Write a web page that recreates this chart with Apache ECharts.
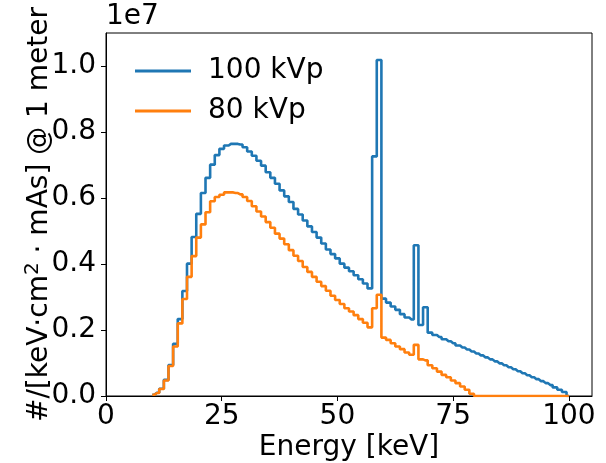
<!DOCTYPE html>
<html>
<head>
<meta charset="utf-8">
<script src="https://cdn.jsdelivr.net/npm/echarts@6/dist/echarts.min.js"></script>
<style>
  html, body { margin: 0; padding: 0; background: #fff; }
  #chart { width: 606px; height: 463px; }
</style>
</head>
<body>
<div id="chart"></div>
<script>
// energy bins, 1 keV wide (bin centres)
var energies = [];
for (var e = 10; e <= 100; e++) energies.push(e);

// photon fluence, units of 1e6 per keV
var kvp100 = [
  0.04, 0.10, 0.22, 0.49, 0.94, 1.58, 2.33, 3.18, 4.01, 4.82,
  5.52, 6.15, 6.61, 7.01, 7.30, 7.49, 7.59, 7.64, 7.64, 7.62,
  7.54, 7.41, 7.28, 7.13, 6.98, 6.78, 6.61, 6.43, 6.23, 6.05,
  5.88, 5.67, 5.50, 5.32, 5.14, 4.97, 4.80, 4.62, 4.44, 4.30,
  4.17, 4.01, 3.89, 3.78, 3.66, 3.54, 3.41, 3.26, 7.26, 10.18,
  2.95, 2.83, 2.71, 2.61, 2.48, 2.38, 2.32, 4.57, 2.15, 2.69,
  1.92, 1.85, 1.79, 1.72, 1.66, 1.60, 1.53, 1.47, 1.41, 1.35,
  1.29, 1.23, 1.17, 1.11, 1.05, 0.99, 0.93, 0.87, 0.81, 0.75,
  0.69, 0.63, 0.57, 0.51, 0.45, 0.39, 0.33, 0.26, 0.19, 0.12,
  0
];
var kvp80 = [
  0.04, 0.09, 0.21, 0.47, 0.91, 1.50, 2.20, 2.94, 3.61, 4.24,
  4.80, 5.20, 5.57, 5.90, 6.03, 6.10, 6.17, 6.17, 6.15, 6.11,
  6.03, 5.91, 5.75, 5.59, 5.44, 5.27, 5.10, 4.92, 4.77, 4.60,
  4.42, 4.25, 4.09, 3.91, 3.76, 3.61, 3.46, 3.33, 3.19, 3.04,
  2.91, 2.79, 2.66, 2.56, 2.45, 2.33, 2.22, 2.08, 2.66, 3.07,
  1.77, 1.70, 1.60, 1.50, 1.42, 1.32, 1.25, 1.55, 1.11, 1.08,
  0.93, 0.84, 0.74, 0.64, 0.57, 0.47, 0.39, 0.29, 0.19, 0.07,
  0, 0, 0, 0, 0, 0, 0, 0, 0, 0,
  0, 0, 0, 0, 0, 0, 0, 0, 0, 0,
  0
];
var xTicks = [0, 25, 50, 75, 100];
var yTicks = [0, 0.2e7, 0.4e7, 0.6e7, 0.8e7, 1.0e7];

function pairs(vals) {
  return energies.map(function (x, i) { return [x, vals[i] * 1e6]; });
}

var font = 'DejaVu Sans';
var chart = echarts.init(document.getElementById('chart'));
chart.setOption({
  animation: false,
  textStyle: { fontFamily: font },
  grid: { left: 106, right: 14, top: 33, bottom: 67, outerBoundsMode: 'none',
    show: true, borderColor: '#000', borderWidth: 1 },
  graphic: [{
    type: 'text', left: 106, top: 3,
    style: { text: '1e7', font: '28px ' + font, fill: '#000' }
  }],
  legend: {
    orient: 'vertical', left: 130, top: 52, itemGap: 12,
    itemWidth: 56, itemHeight: 3, icon: 'rect',
    textStyle: { fontFamily: font, fontSize: 28, color: '#000', padding: [0, 0, 0, 12] },
    data: ['100 kVp', '80 kVp']
  },
  xAxis: {
    type: 'value', min: 0, max: 105, interval: 25,
    name: 'Energy [keV]', nameLocation: 'middle', nameGap: 38, nameMoveOverlap: false,
    nameTextStyle: { fontFamily: font, fontSize: 28, color: '#000' },
    axisLine: { lineStyle: { color: '#000', width: 1 } },
    axisTick: { length: 5, lineStyle: { color: '#000' },
      customValues: xTicks },
    axisLabel: { fontFamily: font, fontSize: 28, color: '#000', margin: 7,
      customValues: xTicks },
    splitLine: { show: false }
  },
  yAxis: {
    type: 'value', min: 0, max: 1.1e7, interval: 0.2e7,
    name: '#/[keV·cm{sup|2} · mAs] @ 1 meter', nameLocation: 'middle', nameGap: 49,
    nameMoveOverlap: false,
    nameTextStyle: { fontFamily: font, fontSize: 28, color: '#000',
      rich: { sup: { fontFamily: font, fontSize: 20, color: '#000', verticalAlign: 'top', lineHeight: 34 } } },
    axisLine: { show: true, lineStyle: { color: '#000', width: 1 } },
    axisTick: { show: true, length: 5, lineStyle: { color: '#000' },
      customValues: yTicks },
    axisLabel: { fontFamily: font, fontSize: 28, color: '#000', margin: 10,
      customValues: yTicks,
      formatter: function (v) { return (v / 1e7).toFixed(1); } },
    splitLine: { show: false }
  },
  series: [
    { name: '100 kVp', type: 'line', step: 'middle', showSymbol: false,
      color: '#1f77b4', lineStyle: { width: 2.6 }, data: pairs(kvp100) },
    { name: '80 kVp', type: 'line', step: 'middle', showSymbol: false,
      color: '#ff7f0e', lineStyle: { width: 2.6 }, data: pairs(kvp80) }
  ]
});
</script>
</body>
</html>
